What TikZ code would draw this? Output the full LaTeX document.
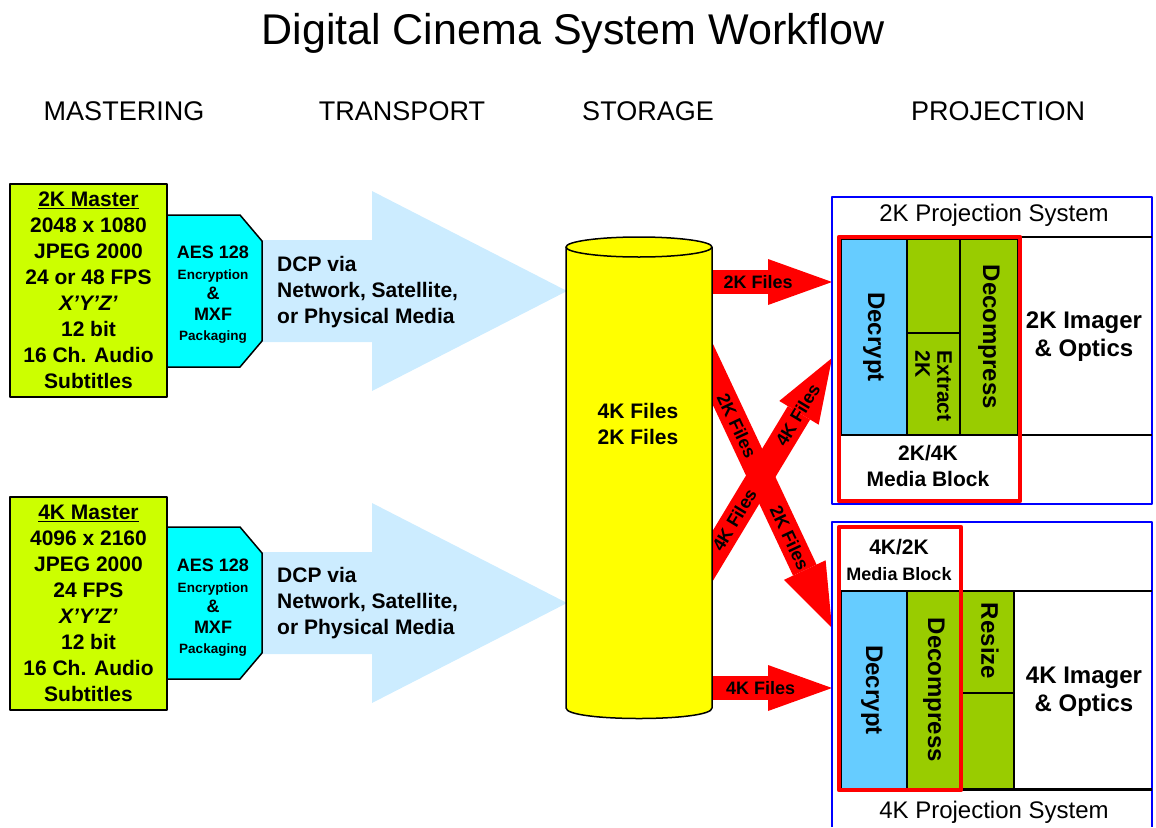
\documentclass[tikz,border=0pt]{standalone}
\usepackage{fontspec}
\setmainfont{Liberation Sans}
\usetikzlibrary{arrows.meta}
\definecolor{masterlime}{RGB}{204,255,0}
\definecolor{aescyan}{RGB}{0,255,255}
\definecolor{dcpblue}{RGB}{204,236,255}
\definecolor{storeyellow}{RGB}{255,255,0}
\definecolor{decryptblue}{RGB}{102,204,255}
\definecolor{procgreen}{RGB}{153,204,0}
\tikzset{
  hdr/.style={font=\fontsize{27}{32}\selectfont},
  big/.style={font=\bfseries\fontsize{21}{26}\selectfont, align=center, inner sep=0pt},
  master/.style={big, draw, line width=1.5pt, fill=masterlime, minimum width=157pt, minimum height=213pt},
  aes/.style={font=\bfseries\fontsize{18}{20.5}\selectfont, align=center, inner sep=0pt},
  fat/.style={draw=red, line width=24pt, -{Triangle[width=46pt,length=64pt,line width=0pt]}},
  lbl/.style={font=\bfseries\fontsize{18}{20}\selectfont, sloped, inner sep=0pt},
  blk/.style={draw=black, line width=1.5pt},
  vert/.style={rotate=-90, font=\bfseries\fontsize{24}{26}\selectfont, inner sep=0pt},
  optic/.style={font=\bfseries\fontsize{24}{28}\selectfont, align=center, inner sep=0pt},
  sysname/.style={font=\fontsize{24}{28}\selectfont, inner sep=0pt}
}
\begin{document}
\begin{tikzpicture}[x=1pt, y=-1pt, line join=round]
\useasboundingbox (0,0) rectangle (1156,827);
\node (title) at (573,33) {\fontsize{43}{50}\selectfont Digital Cinema System Workflow};
\foreach \x/\t in {124/MASTERING, 402/TRANSPORT, 648/STORAGE, 998/PROJECTION}
  \node[hdr] (hdr\t) at (\x,111) {\t};

% transport
\foreach \y in {291,603}
  \fill[dcpblue] (250,\y-51) -- (372,\y-51) -- (372,\y-100) -- (567,\y) -- (372,\y+100) -- (372,\y+51) -- (250,\y+51) -- cycle;
\node[big, align=left, anchor=west] (dcp2k) at (277,292) {DCP via\\Network, Satellite,\\or Physical Media};
\node[big, align=left, anchor=west] (dcp4k) at (277,603) {DCP via\\Network, Satellite,\\or Physical Media};

% mastering
\foreach \y in {291,603}
  \filldraw[fill=aescyan, draw=black, line width=1.5pt] (150,\y-76) -- (240,\y-76) -- (262,\y-50) -- (262,\y+50) -- (240,\y+76) -- (150,\y+76) -- cycle;
\node[aes] (aes2k) at (213,295) {AES 128\\{\fontsize{13.5}{15}\selectfont Encryption}\\\&\\MXF\\{\fontsize{13.5}{15}\selectfont Packaging}};
\node[aes] (aes4k) at (213,608) {AES 128\\{\fontsize{13.5}{15}\selectfont Encryption}\\\&\\MXF\\{\fontsize{13.5}{15}\selectfont Packaging}};
\node[master] (m2k) at (88.5,290.5) {\underline{2K Master}\\2048 x 1080\\JPEG 2000\\24 or 48 FPS\\\textit{X’Y’Z’}\\12 bit\\16 Ch. Audio\\Subtitles};
\node[master] (m4k) at (88.5,603.5) {\underline{4K Master}\\4096 x 2160\\JPEG 2000\\24 FPS\\\textit{X’Y’Z’}\\12 bit\\16 Ch. Audio\\Subtitles};

% storage to projection
\path (700,282) coordinate (s2k) (832,282) coordinate (p2k)
      (700,688) coordinate (s4k) (832,688) coordinate (p4k)
      (700,347) coordinate (sx2k) (832,628) coordinate (px2k)
      (700,577) coordinate (sx4k) (832,358) coordinate (px4k);
\draw[fat] (s2k) -- node[lbl, pos=0.44]{2K Files} (p2k);
\draw[fat] (s4k) -- node[lbl, pos=0.46]{4K Files} (p4k);
\draw[fat, line width=26pt] (sx2k) -- node[lbl, pos=0.28]{2K Files} node[lbl, pos=0.68]{2K Files} (px2k);
\draw[fat, line width=26pt] (sx4k) -- node[lbl, pos=0.26]{4K Files} node[lbl, pos=0.74]{4K Files} (px4k);

\filldraw[fill=storeyellow, draw=black, line width=1.5pt] (566,247) -- (566,708) .. controls (566,722) and (712,722) .. (712,708) -- (712,247);
\filldraw[fill=storeyellow, draw=black, line width=1.5pt] (639,247) ellipse [x radius=73, y radius=10];
\node[big] (store) at (638,424) {4K Files\\2K Files};

% 2K projection
\draw[blue, line width=2.5pt] (832,197) rectangle (1152,504);
\node[sysname] (ps2k) at (994,215) {2K Projection System};
\draw[blk, fill=decryptblue] (841,239) rectangle (907,435);
\draw[blk, fill=procgreen] (907,239) rectangle (960,333);
\draw[blk, fill=procgreen] (907,333) rectangle (960,435);
\draw[blk, fill=procgreen] (960,239) rectangle (1018,435);
\draw[blk] (1018,237) -- (1152,237);
\draw[blk] (841,435) -- (1152,435);
\node[vert] (dec2k) at (874,337) {Decrypt};
\node[vert, font=\bfseries\fontsize{21}{22}\selectfont, align=left] (ext2k) at (933.5,386) {Extract\\2K};
\node[vert] (dcm2k) at (989,337) {Decompress};
\node[optic] (img2k) at (1084,337) {2K Imager\\\& Optics};
\node[big] (mb2k) at (928,466) {2K/4K\\Media Block};
\draw[red, line width=4.5pt] (839,237) rectangle (1020,501);

% 4K projection
\draw[blue, line width=2.5pt] (832,827) -- (832,522) -- (1152,522) -- (1152,827);
\draw[blk] (841,591) -- (1152,591);
\draw[blk, fill=decryptblue] (841,591) rectangle (907,789);
\draw[blk, fill=procgreen] (907,591) rectangle (961,789);
\draw[blk, fill=procgreen] (961,591) rectangle (1014,693);
\draw[blk, fill=procgreen] (961,693) rectangle (1014,789);
\draw[line width=3pt] (961,789) -- (1152,789);
\node[vert] (dec4k) at (872,690) {Decrypt};
\node[vert] (dcm4k) at (934,690) {Decompress};
\node[vert] (rsz4k) at (990,641) {Resize};
\node[optic] (img4k) at (1084,692) {4K Imager\\\& Optics};
\node[big] (mb4k) at (899,560) {4K/2K\\{\fontsize{18}{20}\selectfont Media Block}};
\node[sysname] (ps4k) at (994,812) {4K Projection System};
\draw[red, line width=4.5pt] (839,527) rectangle (961,790);
\end{tikzpicture}
\end{document}
